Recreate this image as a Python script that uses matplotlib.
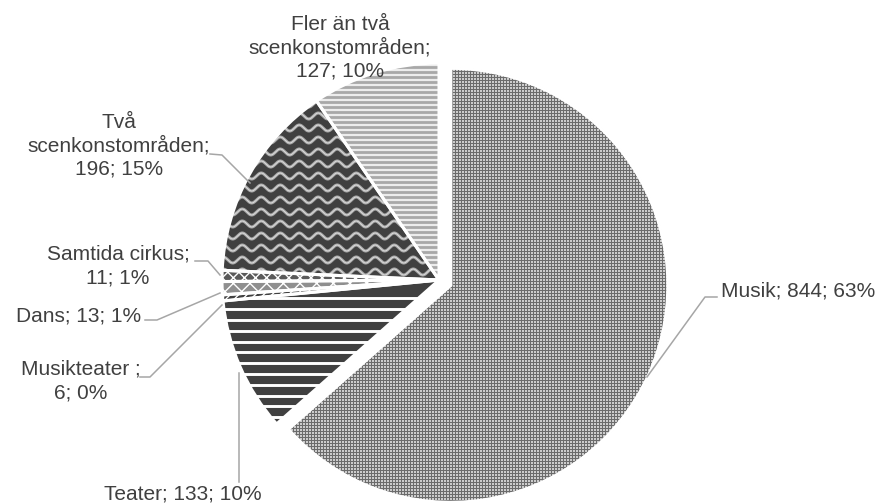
import numpy as np
import matplotlib.pyplot as plt

plt.rcParams['font.family'] = ['Liberation Sans', 'DejaVu Sans']

# data (clockwise from 12 o'clock)
names = ["Musik", "Teater", "Musikteater ", "Dans", "Samtida cirkus",
         "Två\nscenkonstområden", "Fler än två\nscenkonstområden"]
counts = [844, 133, 6, 13, 11, 196, 127]
label_breaks = [" ", " ", "\n", " ", "\n", "\n", "\n"]

total = sum(counts)
percents = [int(round(100 * c / total)) for c in counts]
label_texts = [f"{n};{b}{c}; {p}%" for n, b, c, p in zip(names, label_breaks, counts, percents)]

# label placement in pixel coords and leader lines
label_pos = [(798, 291), (183, 494), (81, 381), (79, 316), (118, 266), (119, 146), (340, 48)]
leaders = [
    [(717, 297), (705, 297), (647, 377)],
    [(239, 482), (239, 373)],
    [(140, 377), (150, 377), (222, 305)],
    [(145, 320), (157, 320), (220, 293)],
    [(195, 261), (208, 261), (220, 275)],
    [(210, 154), (222, 155), (250, 183)],
    [],
]

base_colors = ["#999999", "#404040", "#404040", "#8f8f8f", "#5a5a5a", "#404040", "#a8a8a8"]
hatches = [None, None, "////", "xx", "xxx", None, None]
explode = [13, 0, 0, 0, 0, 0, 0]

fig = plt.figure(figsize=(8.8, 5.04), dpi=100)
ax = fig.add_axes([0, 0, 1, 1])

center = (439, 280)
radius = 217

# fills (y axis is inverted below, so counterclock here is clockwise on screen)
wedges, _ = ax.pie(counts, explode=explode, colors=base_colors, startangle=-90,
                   counterclock=True, center=center, radius=radius,
                   wedgeprops=dict(edgecolor="white", linewidth=0))
for w, h in zip(wedges, hatches):
    if h:
        w.set_hatch(h)
    w.set_zorder(1)

# Musik: fine dotted texture
yy, xx = np.mgrid[0:504, 0:880]
tex = np.where((xx % 3 < 2) & (yy % 3 < 2), 0.80, 0.42)
im = ax.imshow(tex, cmap="gray", vmin=0, vmax=1, extent=(0, 880, 504, 0),
               interpolation="nearest", zorder=2)
im.set_clip_path(wedges[0])
# thin dark rim on the Musik arc
ax.pie(counts[:1] + [total - counts[0]], explode=[13, 0], colors=["none", "none"],
       startangle=-90, counterclock=True, center=center, radius=radius,
       wedgeprops=dict(edgecolor="#555555", linewidth=0.8, zorder=2.5))[0][1].set_visible(False)

# Teater: white horizontal stripes
for y in np.arange(298.3, 470, 10.8):
    ln, = ax.plot([150, 460], [y, y], color="white", lw=2.1, zorder=2)
    ln.set_clip_path(wedges[1])

# Två: wavy light lines
xs = np.linspace(200, 460, 800)
for y in np.arange(92, 300, 12):
    ln, = ax.plot(xs, y + 3 * np.sin(2 * np.pi * xs / 19), color="#a8a8a8", lw=2.2, zorder=2)
    ln.set_clip_path(wedges[5])
    ln, = ax.plot(xs, y + 3 * np.sin(2 * np.pi * xs / 19), color="#e0e0e0", lw=0.6, zorder=2)
    ln.set_clip_path(wedges[5])

# Fler: fine light stripes
for y in np.arange(60, 300, 5):
    ln, = ax.plot([300, 460], [y, y], color="#ececec", lw=1.6, zorder=2)
    ln.set_clip_path(wedges[6])

# white borders on top
ax.pie(counts, explode=explode, colors=["none"] * len(counts), startangle=-90,
       counterclock=True, center=center, radius=radius,
       wedgeprops=dict(edgecolor="white", linewidth=2.2, zorder=3))

for txt, (x, y), pts in zip(label_texts, label_pos, leaders):
    if pts:
        px, py = zip(*pts)
        ax.plot(px, py, color="#a6a6a6", lw=1.1, zorder=4)
    ax.text(x, y, txt, ha="center", va="center", fontsize=15, color="#404040",
            linespacing=1.27, zorder=5)

ax.set_xlim(0, 880)
ax.set_ylim(504, 0)
ax.set_aspect("equal")
ax.axis("off")

fig.savefig("out.png", dpi=100)
